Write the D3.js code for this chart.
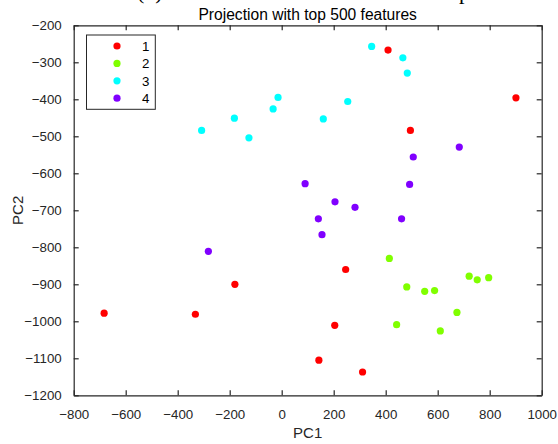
<!DOCTYPE html>
<html><head><meta charset="utf-8">
<script src="https://cdn.jsdelivr.net/npm/d3@7"></script>
<style>body{margin:0;background:#fff}svg{display:block}</style>
</head><body>
<script>
const groups = ["1","2","3","4"];
const groupColors = ["#ff0000","#80ff00","#00ffff","#8000ff"];
const pc1_g1 = [-683,-332,-180,409,901,495,246,204,143,311];
const pc2_g1 = [-978,-981,-900,-267,-396,-484,-860,-1011,-1105,-1137];
const pc1_g2 = [414,481,550,588,721,752,796,674,442,610];
const pc2_g2 = [-830,-907,-919,-917,-878,-888,-882,-976,-1009,-1026];
const pc1_g3 = [346,466,483,-14,254,160,-182,-308,-126,-33];
const pc2_g3 = [-257,-288,-329,-395,-406,-453,-451,-484,-504,-426];
const pc1_g4 = [683,506,90,492,205,282,141,461,155,-282];
const pc2_g4 = [-529,-556,-628,-630,-677,-692,-723,-723,-766,-811];
const xTicks = [-800,-600,-400,-200,0,200,400,600,800,1000];
const yTicks = [-1200,-1100,-1000,-900,-800,-700,-600,-500,-400,-300,-200];
const titleText = "Projection with top 500 features";
const xLabel = "PC1", yLabel = "PC2";

const W = 558, H = 444;
const L = 73.7, R = 541.7, T = 25.3, B = 395.3;
const svg = d3.select("body").append("svg").attr("width", W).attr("height", H);
const font = "Liberation Sans, Arial, sans-serif";
const axisColor = "#262626";

const x = d3.scaleLinear().domain([-800,1000]).range([L,R]);
const y = d3.scaleLinear().domain([-1200,-200]).range([B,T]);

// cut-off caption above (only descenders visible in the reference)
svg.append("text").attr("x",137).attr("y",-1).attr("font-family","Liberation Serif, Times New Roman, serif")
  .attr("font-size",22).attr("fill","#000").text("(b)");
svg.append("text").attr("x",470).attr("y",-1).attr("text-anchor","end").attr("font-family","Liberation Serif, Times New Roman, serif")
  .attr("font-size",22).attr("fill","#000").text("map");

const fmt = d => d < 0 ? "\u2212" + Math.abs(d) : String(d);

const gx = svg.append("g").attr("transform",`translate(0,${B})`)
  .call(d3.axisBottom(x).tickValues(xTicks).tickFormat(fmt).tickSizeInner(-5).tickSizeOuter(0).tickPadding(14));
const gxt = svg.append("g").attr("transform",`translate(0,${T})`)
  .call(d3.axisTop(x).tickValues(xTicks).tickFormat("").tickSizeInner(-5).tickSizeOuter(0));
const gy = svg.append("g").attr("transform",`translate(${L},0)`)
  .call(d3.axisLeft(y).tickValues(yTicks).tickFormat(fmt).tickSizeInner(-5).tickSizeOuter(0).tickPadding(12));
const gyr = svg.append("g").attr("transform",`translate(${R},0)`)
  .call(d3.axisRight(y).tickValues(yTicks).tickFormat("").tickSizeInner(-5).tickSizeOuter(0));
[gx,gxt,gy,gyr].forEach(g=>{
  g.selectAll("path.domain").attr("stroke",axisColor).attr("stroke-width",1.2);
  g.selectAll(".tick line").attr("stroke",axisColor).attr("stroke-width",1.2);
  g.selectAll("text").attr("font-family",font).attr("font-size",13.3).attr("fill",axisColor);
});

// data points
const series = [
  [pc1_g1,pc2_g1],[pc1_g2,pc2_g2],[pc1_g3,pc2_g3],[pc1_g4,pc2_g4]
];
series.forEach((s,i)=>{
  const pts = s[0].map((v,j)=>({x:v,y:s[1][j]}));
  svg.append("g").selectAll("circle").data(pts).join("circle")
    .attr("cx",d=>x(d.x)).attr("cy",d=>y(d.y)).attr("r",3.6)
    .attr("fill",groupColors[i]);
});

// title and labels
svg.append("text").attr("x",(L+R)/2).attr("y",20).attr("text-anchor","middle")
  .attr("font-family",font).attr("font-size",15.6).attr("fill","#000").text(titleText);
svg.append("text").attr("x",(L+R)/2).attr("y",438).attr("text-anchor","middle")
  .attr("font-family",font).attr("font-size",15).attr("fill",axisColor).text(xLabel);
svg.append("text").attr("transform",`translate(23,${(T+B)/2}) rotate(-90)`).attr("text-anchor","middle")
  .attr("font-family",font).attr("font-size",15).attr("fill",axisColor).text(yLabel);

// legend
const lg = svg.append("g");
lg.append("rect").attr("x",86.5).attr("y",35).attr("width",68.8).attr("height",74.3)
  .attr("fill","#fff").attr("stroke",axisColor).attr("stroke-width",1);
groups.forEach((g,i)=>{
  const cy = 46 + i*17.4;
  lg.append("circle").attr("cx",117).attr("cy",cy).attr("r",3.6).attr("fill",groupColors[i]);
  lg.append("text").attr("x",149.5).attr("y",cy+4.8).attr("text-anchor","end")
    .attr("font-family",font).attr("font-size",13.3).attr("fill","#000").text(g);
});
</script>
</body></html>
